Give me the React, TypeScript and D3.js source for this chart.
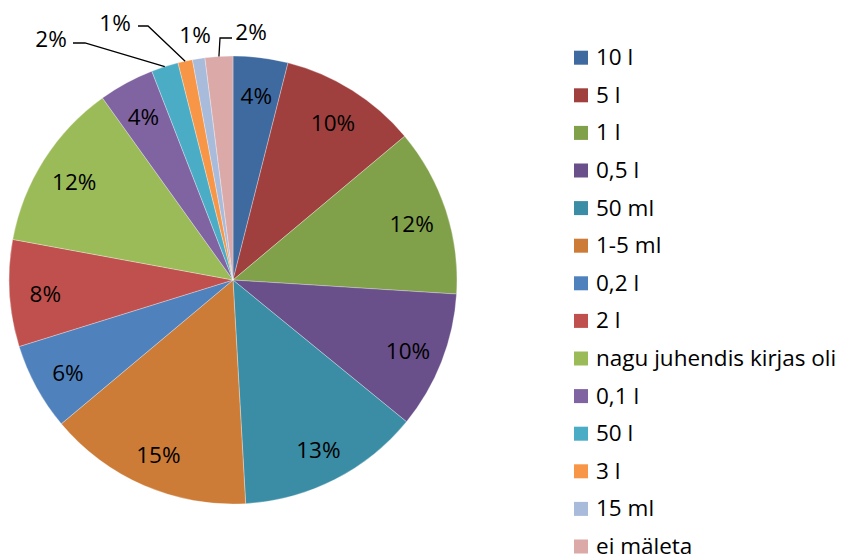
import React from "react";
import * as d3 from "d3";

const categories = [
  "10 l", "5 l", "1 l", "0,5 l", "50 ml", "1-5 ml", "0,2 l", "2 l",
  "nagu juhendis kirjas oli", "0,1 l", "50 l", "3 l", "15 ml", "ei mäleta",
];
const values = [3.95, 9.95, 12.1, 9.9, 13.2, 14.8, 6.3, 7.7, 12.2, 4.0, 1.95, 1.05, 0.9, 2.0];
const labels = ["4%", "10%", "12%", "10%", "13%", "15%", "6%", "8%", "12%", "4%", "2%", "1%", "1%", "2%"];
const colors = [
  "#3F6AA0", "#A0403E", "#80A04A", "#69508A", "#3A8DA5", "#CD7C38", "#4F81BD",
  "#C0504D", "#9BBB59", "#8064A2", "#4BACC6", "#F79646", "#A9BBDB", "#DAA9A8",
];

// outside label placement (relative to pie centre) for small slices
const outside: Record<number, { lx: number; ly: number; elbow?: [number, number]; end?: [number, number] }> = {
  10: { lx: -182, ly: -242, elbow: [-148, -237], end: [-160, -237] },
  11: { lx: -118, ly: -258, elbow: [-85, -254], end: [-95, -254] },
  12: { lx: -38, ly: -246 },
  13: { lx: 18, ly: -249, elbow: [-13, -242], end: [-1, -242] },
};

const FONT = "'Open Sans', Lato, sans-serif";
const FS = 22.5;

export default function App() {
  const width = 846, height = 558;
  const cx = 233, cy = 280, r = 224;
  const pie = d3.pie<number>().sort(null).value((d) => d)(values);
  const arc = d3.arc<d3.PieArcDatum<number>>().innerRadius(0).outerRadius(r);
  const labelArc = d3.arc<d3.PieArcDatum<number>>().innerRadius(188).outerRadius(188);

  const legendX = 574, legendY0 = 57.7, legendStep = 37.6;

  return (
    <svg width={width} height={height} style={{ position: "absolute", left: 0, top: 0, background: "#fff" }}>
      <g transform={`translate(${cx},${cy})`}>
        {pie.map((p, i) => (
          <path key={i} d={arc(p) || ""} fill={colors[i]} stroke="#ffffff" strokeOpacity={0.5} strokeWidth={0.6} />
        ))}
        {pie.map((p, i) => {
          const o = outside[i];
          if (o) {
            const mid = (p.startAngle + p.endAngle) / 2;
            const ex = Math.sin(mid) * r, ey = -Math.cos(mid) * r;
            return (
              <g key={"l" + i}>
                {o.elbow && o.end && (
                  <polyline
                    points={`${ex},${ey} ${o.elbow[0]},${o.elbow[1]} ${o.end[0]},${o.end[1]}`}
                    fill="none" stroke="#000" strokeWidth={1.3}
                  />
                )}
                <text x={o.lx} y={o.ly} textAnchor="middle" dominantBaseline="central"
                  fontFamily={FONT} fontSize={FS} fill="#000">{labels[i]}</text>
              </g>
            );
          }
          const [x, y] = labelArc.centroid(p);
          return (
            <text key={"l" + i} x={x} y={y + 2} textAnchor="middle" dominantBaseline="central"
              fontFamily={FONT} fontSize={FS} fill="#000">{labels[i]}</text>
          );
        })}
      </g>
      {categories.map((c, i) => (
        <g key={"g" + i} transform={`translate(${legendX},${legendY0 + i * legendStep})`}>
          <rect x={0} y={-7} width={14} height={14} fill={colors[i]} />
          <text x={22} y={7.5} fontFamily={FONT} fontSize={FS} fill="#000">{c}</text>
        </g>
      ))}
    </svg>
  );
}
